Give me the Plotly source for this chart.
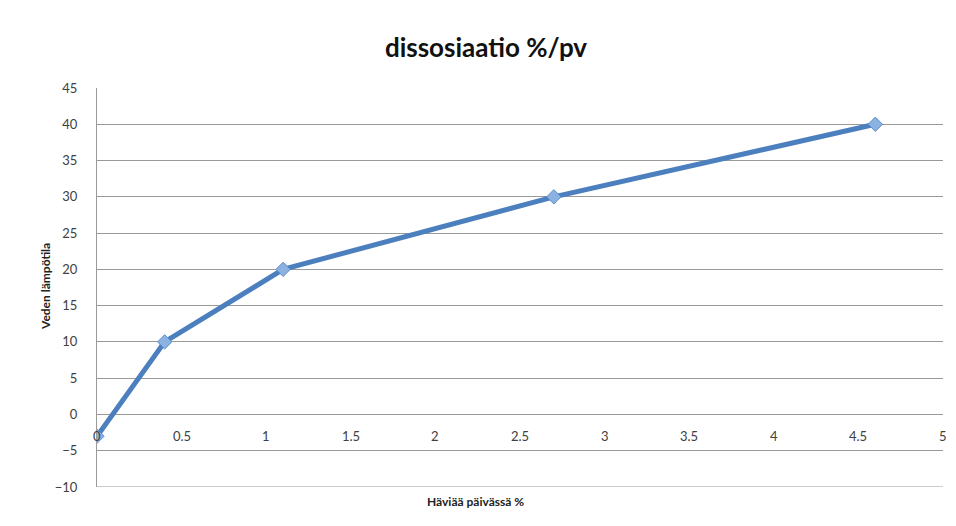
import plotly.graph_objects as go

# Data: daily loss (%) vs. water temperature
loss_pct = [0, 0.4, 1.1, 2.7, 4.6]
water_temp = [-3, 10, 20, 30, 40]

x_tick_vals = [0, 0.5, 1, 1.5, 2, 2.5, 3, 3.5, 4, 4.5, 5]
x_tick_text = ["0", "0.5", "1", "1.5", "2", "2.5", "3", "3.5", "4", "4.5", "5"]
x_label_level = -3  # horizontal axis crosses here
y_min, y_max = -10, 45

W, H = 956, 526
L, R, T, B = 97, 13, 88, 39
pw, ph = W - L - R, H - T - B

def px_to_paper_x(px):
    return (px - L) / pw

def px_to_paper_y(py):
    return (H - B - py) / ph

FONT = "Lato, 'Open Sans', sans-serif"
TXT = "#404040"
GRID = "#9a9a9a"

fig = go.Figure()
fig.add_trace(go.Scatter(
    x=loss_pct, y=water_temp, mode="lines+markers",
    line=dict(color="#4c7fbd", width=5),
    marker=dict(symbol="diamond", size=11, color="#8cb2e2",
                line=dict(color="#5b8ccc", width=1)),
    showlegend=False, hoverinfo="x+y",
))

annotations = []
for v, t in zip(x_tick_vals, x_tick_text):
    annotations.append(dict(x=v, y=x_label_level, xref="x", yref="y", text=t,
                            showarrow=False, font=dict(family=FONT, size=13, color=TXT),
                            xanchor="center", yanchor="middle"))

annotations.append(dict(x=px_to_paper_x(475), y=px_to_paper_y(501), xref="paper", yref="paper",
                        text="<b>Häviää päivässä %</b>", showarrow=False,
                        font=dict(family=FONT, size=12, color="#222222"),
                        xanchor="center", yanchor="middle"))
annotations.append(dict(x=px_to_paper_x(45), y=px_to_paper_y(287), xref="paper", yref="paper",
                        text="<b>Veden lämpötila</b>", showarrow=False, textangle=-90,
                        font=dict(family=FONT, size=12, color="#222222"),
                        xanchor="center", yanchor="middle"))

# Bottom gridline of the plot area
shapes = [
    dict(type="line", xref="paper", yref="y", x0=0, x1=1, y0=y_min, y1=y_min,
         line=dict(color=GRID, width=1), layer="below"),
]

fig.update_layout(
    width=W, height=H,
    margin=dict(l=L, r=R, t=T, b=B, autoexpand=False),
    paper_bgcolor="white", plot_bgcolor="white",
    title=dict(text="<b>dissosiaatio %/pv</b>", x=486 / W, y=1 - 48 / H,
               xanchor="center", yanchor="middle",
               font=dict(family=FONT, size=26, color="#111111")),
    xaxis=dict(range=[0, 5], showgrid=False, zeroline=False, showticklabels=False,
               showline=False, fixedrange=True),
    yaxis=dict(range=[y_min, y_max], dtick=5, tick0=0, showgrid=True, gridcolor=GRID,
               gridwidth=1, zeroline=False, showline=True, linecolor=GRID, linewidth=1,
               ticks="", ticklabelstandoff=16,
               tickfont=dict(family=FONT, size=13, color=TXT), fixedrange=True),
    annotations=annotations,
    shapes=shapes,
)

fig.write_html("out.html")
